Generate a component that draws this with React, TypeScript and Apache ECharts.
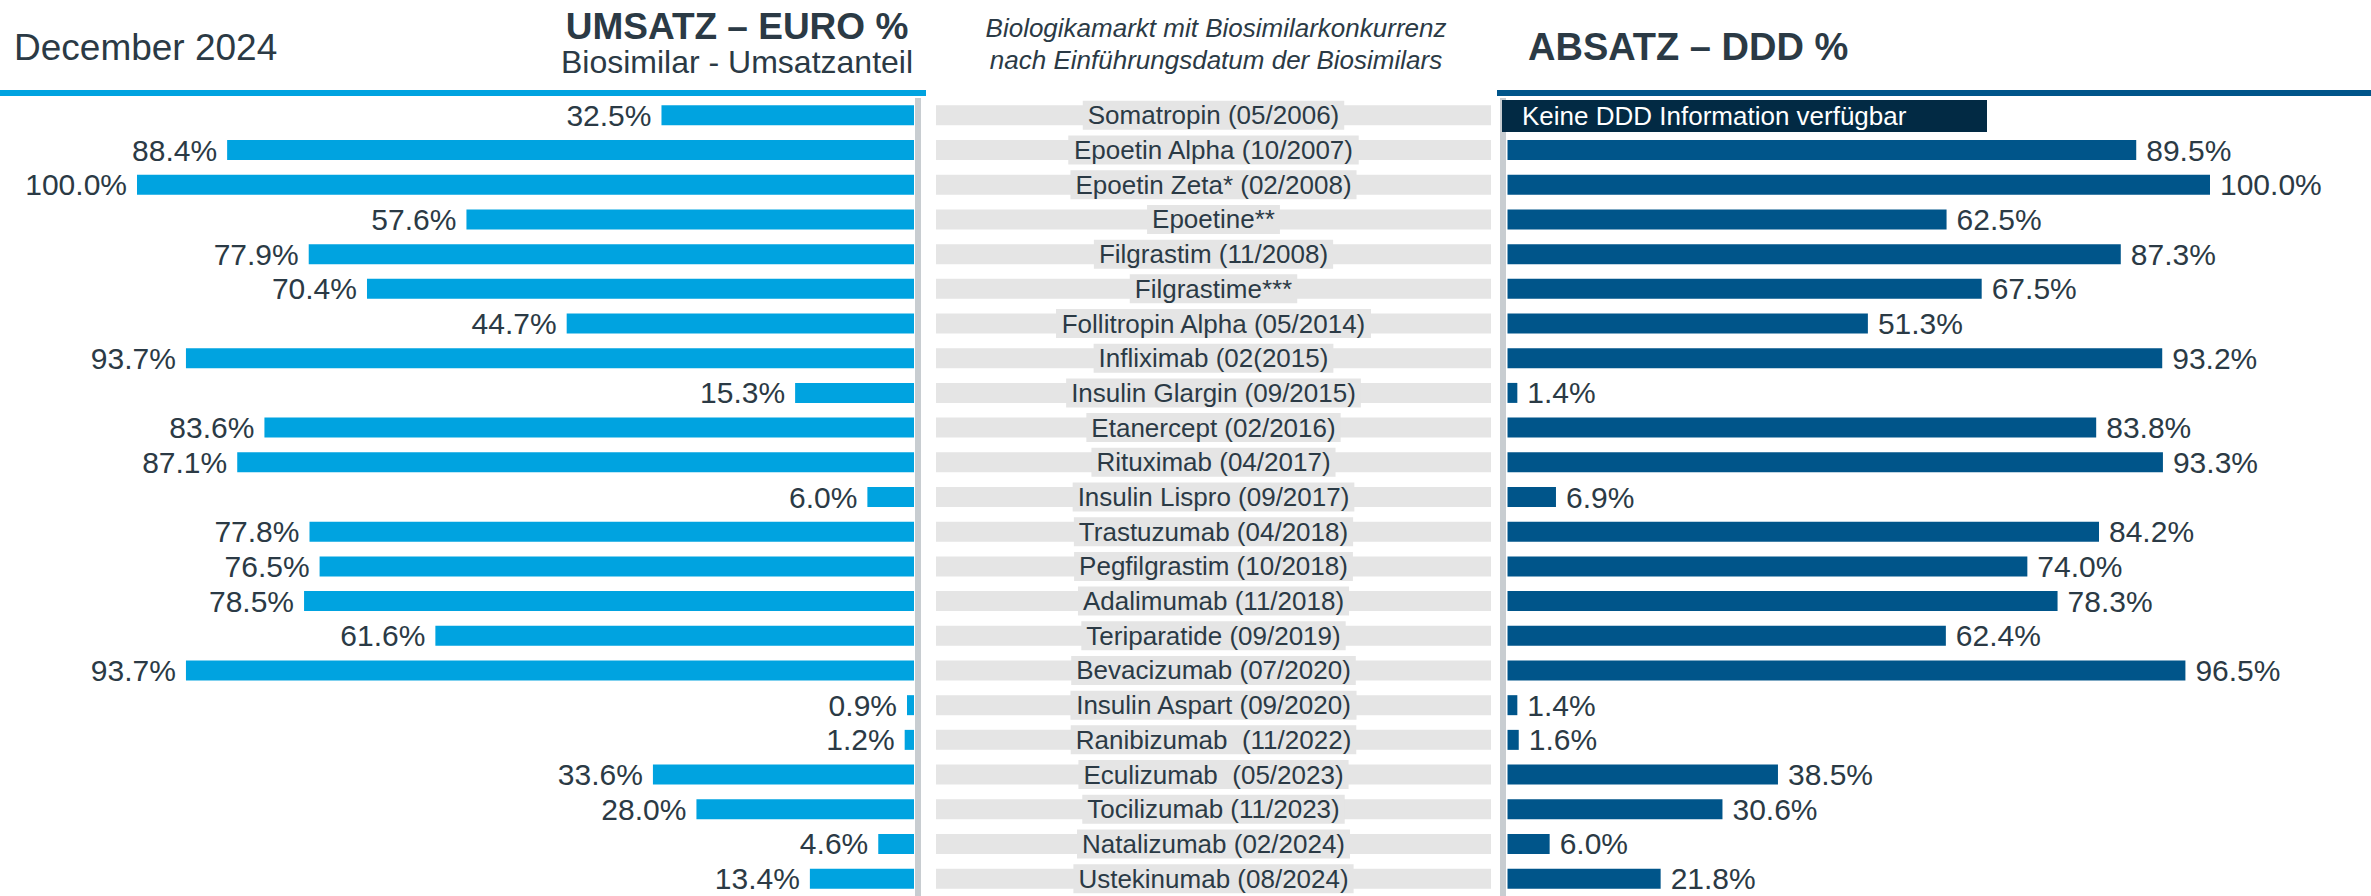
import React, { useEffect, useRef } from 'react';
import * as echarts from 'echarts';

// ---- data ----
const categories: string[] = [
  'Somatropin (05/2006)',
  'Epoetin Alpha (10/2007)',
  'Epoetin Zeta* (02/2008)',
  'Epoetine**',
  'Filgrastim (11/2008)',
  'Filgrastime***',
  'Follitropin Alpha (05/2014)',
  'Infliximab (02(2015)',
  'Insulin Glargin (09/2015)',
  'Etanercept (02/2016)',
  'Rituximab (04/2017)',
  'Insulin Lispro (09/2017)',
  'Trastuzumab (04/2018)',
  'Pegfilgrastim (10/2018)',
  'Adalimumab (11/2018)',
  'Teriparatide (09/2019)',
  'Bevacizumab (07/2020)',
  'Insulin Aspart (09/2020)',
  'Ranibizumab  (11/2022)',
  'Eculizumab  (05/2023)',
  'Tocilizumab (11/2023)',
  'Natalizumab (02/2024)',
  'Ustekinumab (08/2024)',
];

const umsatzEuroShare: number[] = [
  32.5, 88.4, 100.0, 57.6, 77.9, 70.4, 44.7, 93.7, 15.3, 83.6, 87.1, 6.0,
  77.8, 76.5, 78.5, 61.6, 93.7, 0.9, 1.2, 33.6, 28.0, 4.6, 13.4,
];

const absatzDddShare: (number | null)[] = [
  null, 89.5, 100.0, 62.5, 87.3, 67.5, 51.3, 93.2, 1.4, 83.8, 93.3, 6.9,
  84.2, 74.0, 78.3, 62.4, 96.5, 1.4, 1.6, 38.5, 30.6, 6.0, 21.8,
];

const dateLabel = 'December 2024';
const leftTitle = 'UMSATZ – EURO %';
const leftSubtitle = 'Biosimilar - Umsatzanteil';
const middleTitle1 = 'Biologikamarkt mit Biosimilarkonkurrenz';
const middleTitle2 = 'nach Einführungsdatum der Biosimilars';
const rightTitle = 'ABSATZ – DDD %';
const noDddText = 'Keine DDD Information verfügbar';
const stripeFull = 1;

const FONT = '"Liberation Sans", Arial, Helvetica, sans-serif';
const TEXT = '#2b3a45';
const LEFT_BLUE = '#00A3E0';
const RIGHT_BLUE = '#00558A';
const NAVY = '#022A44';
const STRIPE = '#e5e5e5';
const DIVIDER = '#c8cdd1';

export default function App() {
  const ref = useRef<HTMLDivElement>(null);

  useEffect(() => {
    if (!ref.current) return;
    const chart = echarts.init(ref.current, null, { renderer: 'svg' });

    const gridTop = 98;
    const gridHeight = 799;
    const barW = 20;
    const pct = (p: any) => (p.value == null ? '' : Number(p.value).toFixed(1) + '%');

    const valueLabel = {
      show: true,
      fontSize: 30,
      fontFamily: FONT,
      color: TEXT,
      distance: 10,
      formatter: pct,
    };

    const option: any = {
      animation: false,
      backgroundColor: '#ffffff',
      grid: [
        { left: 137, top: gridTop, width: 777, height: gridHeight },
        { left: 936, top: gridTop, width: 555, height: gridHeight },
        { left: 1507.5, top: gridTop, width: 702.5, height: gridHeight },
      ],
      xAxis: [
        { gridIndex: 0, type: 'value', min: 0, max: 100, inverse: true, show: false },
        { gridIndex: 1, type: 'value', min: 0, max: stripeFull, show: false },
        { gridIndex: 2, type: 'value', min: 0, max: 100, show: false },
      ],
      yAxis: [0, 1, 2].map((i) => ({
        gridIndex: i,
        type: 'category',
        data: categories,
        inverse: true,
        show: false,
      })),
      series: [
        {
          type: 'bar',
          xAxisIndex: 0,
          yAxisIndex: 0,
          data: umsatzEuroShare,
          barWidth: barW,
          silent: true,
          itemStyle: { color: LEFT_BLUE },
          label: { ...valueLabel, position: 'left' },
        },
        {
          type: 'bar',
          xAxisIndex: 1,
          yAxisIndex: 1,
          data: categories.map((name) => ({ value: stripeFull, name })),
          barWidth: barW,
          silent: true,
          itemStyle: { color: STRIPE },
          label: {
            show: true,
            position: 'inside',
            formatter: '{b}',
            fontSize: 26,
            lineHeight: 27,
            fontFamily: FONT,
            color: TEXT,
            backgroundColor: STRIPE,
            padding: [1, 5],
          },
        },
        {
          type: 'bar',
          xAxisIndex: 2,
          yAxisIndex: 2,
          data: absatzDddShare,
          barWidth: barW,
          silent: true,
          itemStyle: { color: RIGHT_BLUE },
          label: { ...valueLabel, position: 'right' },
        },
      ],
      graphic: [
        {
          type: 'text',
          x: 14,
          y: 47,
          style: { text: dateLabel, fontSize: 37, fontFamily: FONT, fill: TEXT, textAlign: 'left', textVerticalAlign: 'middle' },
        },
        {
          type: 'text',
          x: 737,
          y: 26,
          style: { text: leftTitle, fontSize: 37, fontWeight: 'bold', fontFamily: FONT, fill: TEXT, textAlign: 'center', textVerticalAlign: 'middle' },
        },
        {
          type: 'text',
          x: 737,
          y: 62,
          style: { text: leftSubtitle, fontSize: 32, fontFamily: FONT, fill: TEXT, textAlign: 'center', textVerticalAlign: 'middle' },
        },
        {
          type: 'text',
          x: 1216,
          y: 28,
          style: { text: middleTitle1, fontSize: 26, fontStyle: 'italic', fontFamily: FONT, fill: TEXT, textAlign: 'center', textVerticalAlign: 'middle' },
        },
        {
          type: 'text',
          x: 1216,
          y: 60,
          style: { text: middleTitle2, fontSize: 26, fontStyle: 'italic', fontFamily: FONT, fill: TEXT, textAlign: 'center', textVerticalAlign: 'middle' },
        },
        {
          type: 'text',
          x: 1528,
          y: 47,
          style: { text: rightTitle, fontSize: 38, fontWeight: 'bold', fontFamily: FONT, fill: TEXT, textAlign: 'left', textVerticalAlign: 'middle' },
        },
        { type: 'rect', shape: { x: 0, y: 90, width: 926, height: 6 }, style: { fill: LEFT_BLUE }, silent: true },
        { type: 'rect', shape: { x: 1497, y: 90, width: 874, height: 6 }, style: { fill: RIGHT_BLUE }, silent: true },
        { type: 'rect', shape: { x: 915, y: 98, width: 6, height: 798 }, style: { fill: DIVIDER }, silent: true },
        { type: 'rect', shape: { x: 1500, y: 98, width: 6, height: 798 }, style: { fill: DIVIDER }, silent: true },
        { type: 'rect', z: 100, shape: { x: 1502, y: 100, width: 485, height: 32 }, style: { fill: NAVY }, silent: true },
        {
          type: 'text',
          z: 101,
          x: 1522,
          y: 116,
          style: { text: noDddText, fontSize: 26, fontFamily: FONT, fill: '#ffffff', textAlign: 'left', textVerticalAlign: 'middle' },
        },
      ],
    };

    chart.setOption(option);
    return () => chart.dispose();
  }, []);

  return (
    <div
      ref={ref}
      style={{ position: 'absolute', left: 0, top: 0, width: 2371, height: 896 }}
    />
  );
}
